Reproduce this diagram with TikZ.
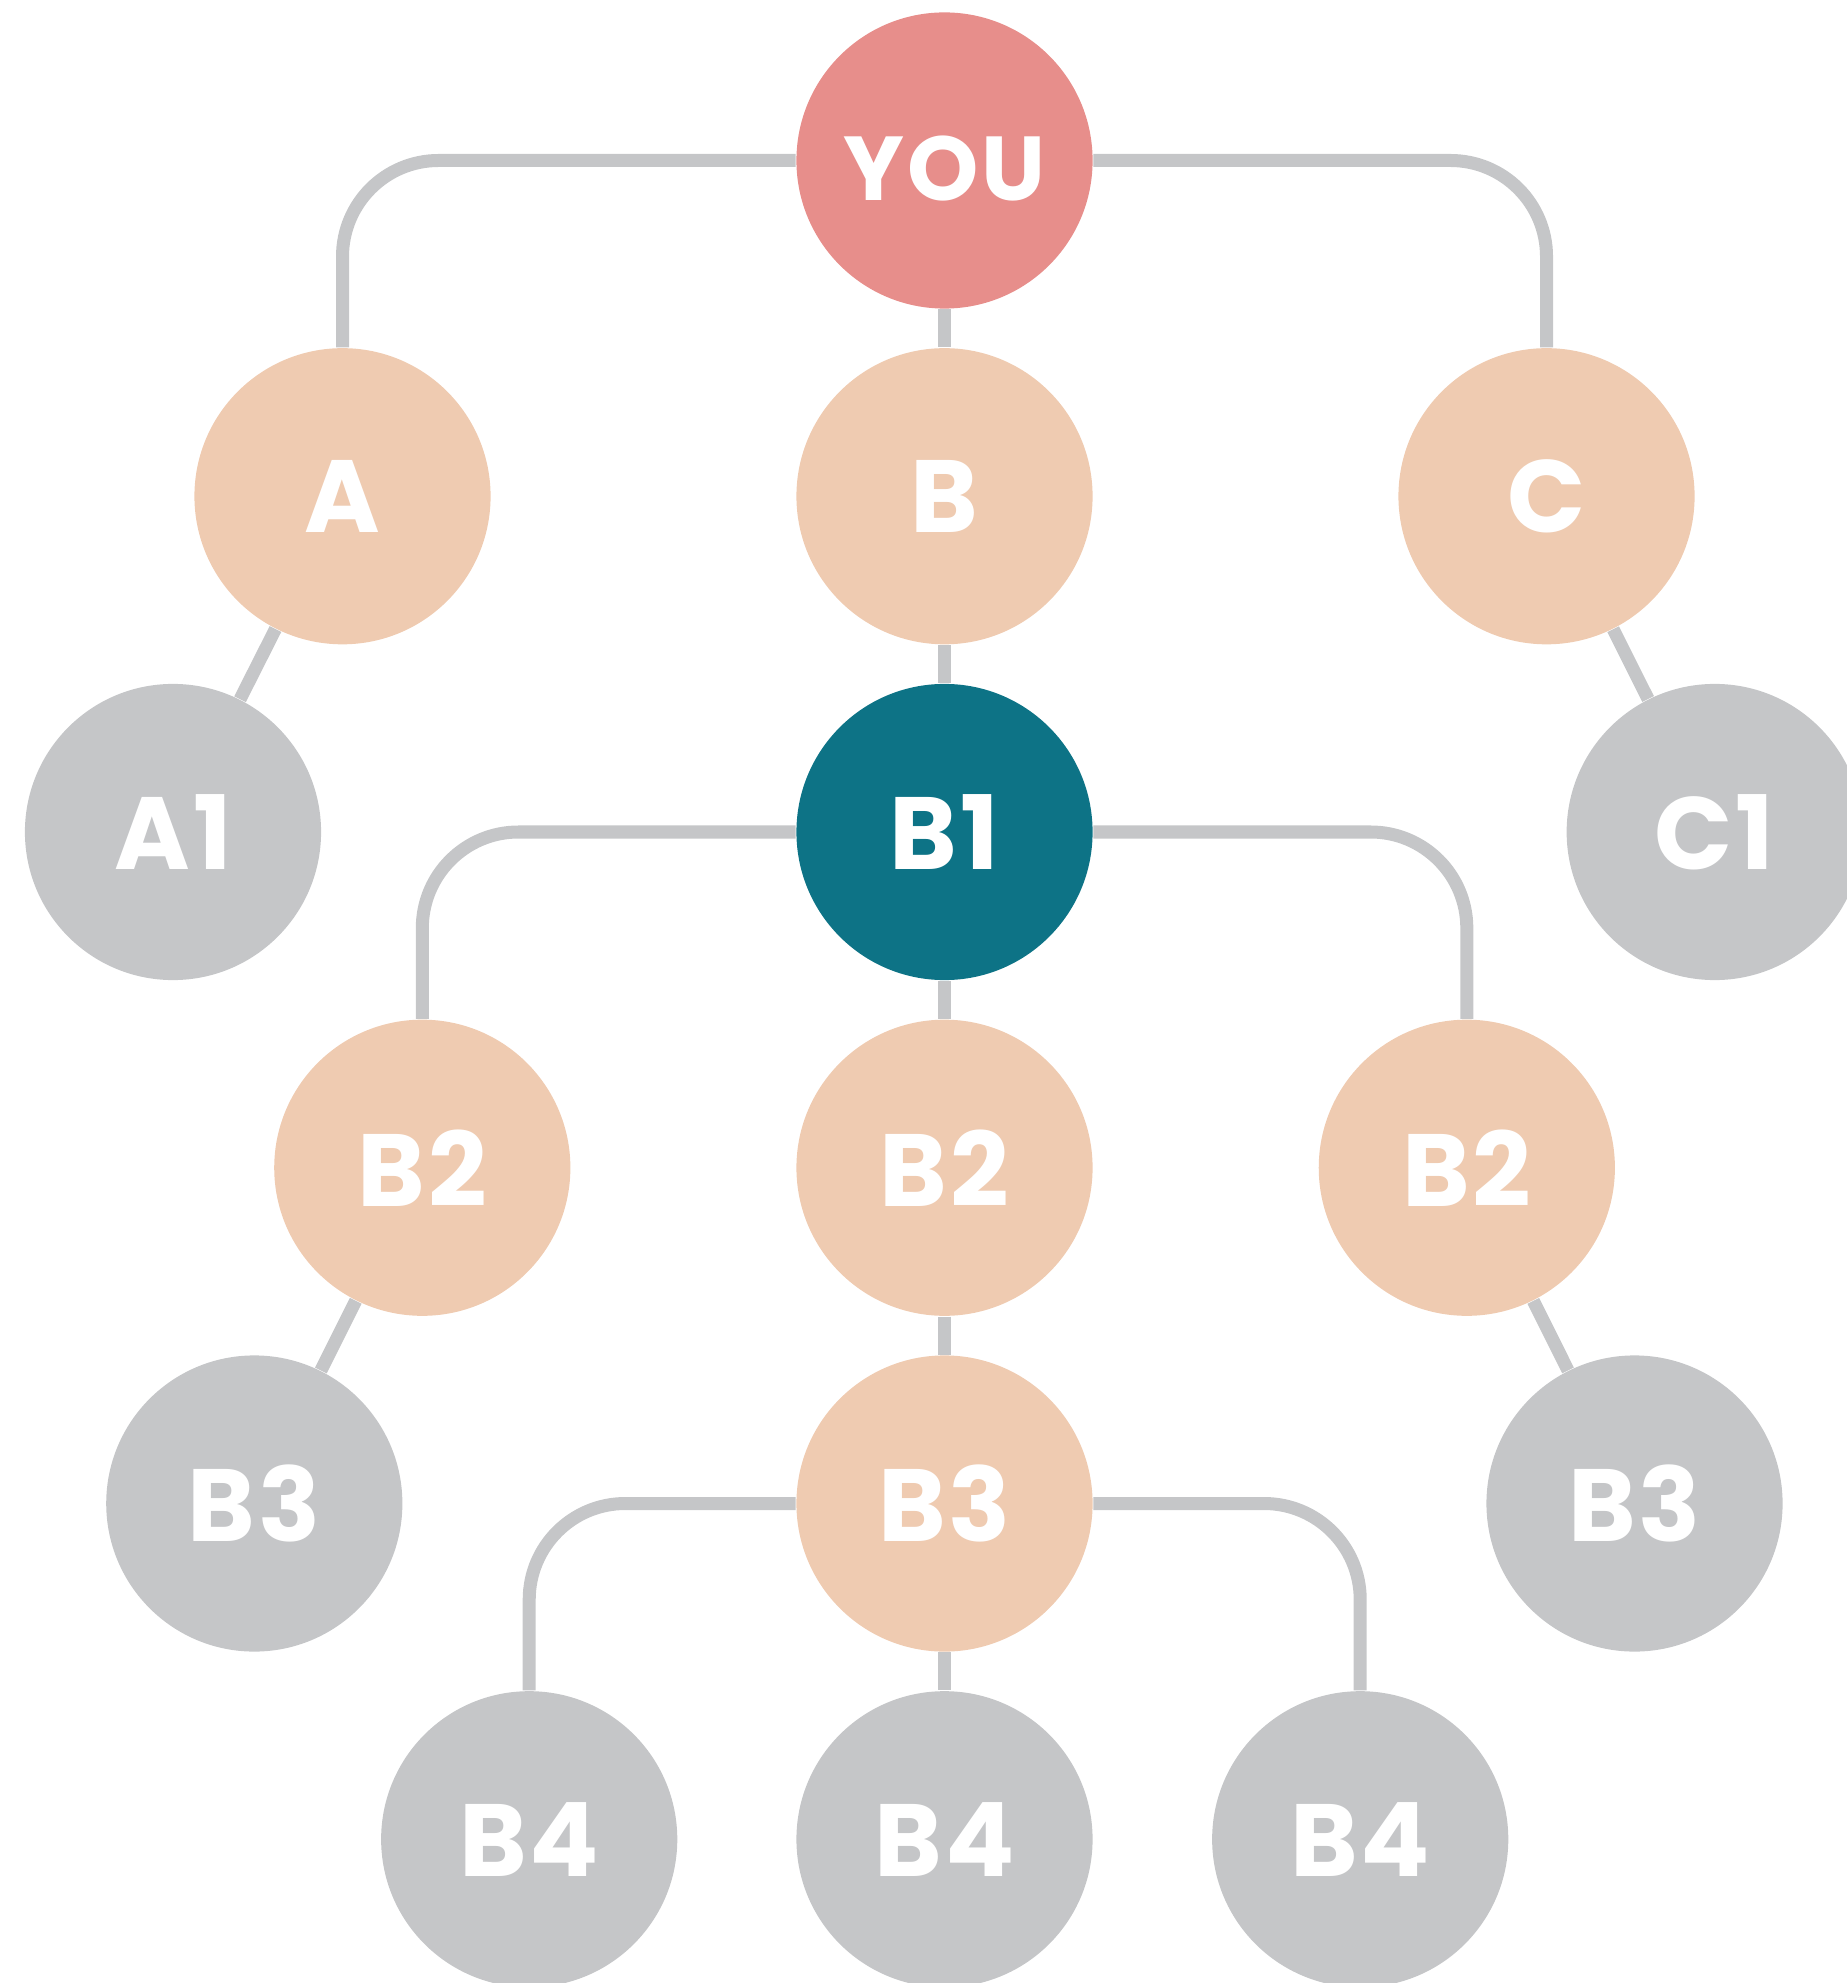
\documentclass[tikz,border=0pt]{standalone}
\usepackage{fontspec}
\setmainfont{Poppins}
\definecolor{youred}{HTML}{E78E8B}
\definecolor{peach}{HTML}{EFCBB1}
\definecolor{lgray}{HTML}{C5C6C8}
\definecolor{teal}{HTML}{0D7386}
\begin{document}
\begin{tikzpicture}[x=0.01cm,y=-0.01cm,
  person/.style={circle,minimum size=2.96cm,inner sep=0pt,text=white,
    font=\fontsize{29.2}{30}\selectfont\bfseries\addfontfeature{LetterSpace=3}},
  youc/.style={person,fill=youred},
  youtext/.style={text=white,inner sep=0pt,font=\fontsize{25.8}{26}\selectfont\bfseries\addfontfeature{LetterSpace=3}},
  peachc/.style={person,fill=peach},
  grayc/.style={person,fill=lgray},
  tealc/.style={person,fill=teal},
  edge/.style={draw=lgray,line width=0.13cm,rounded corners=0.96cm}]
\useasboundingbox (0,0) rectangle (1846,1983);
\node[youc] (you) at (944.5,160.5) {};
\node[youtext] (youlabel) at ([yshift=-0.08cm]you.center) {YOU};
\node[peachc] (a) at (342.5,496.25) {A};
\node[peachc] (b) at (944.5,496.25) {B};
\node[peachc] (c) at (1546.5,496.25) {C};
\node[grayc] (a1) at (173,832) {A1};
\node[tealc] (b1) at (944.5,832) {B1};
\node[grayc] (c1) at (1714.7,832) {C1};
\node[peachc] (b2l) at (422.3,1167.75) {B2};
\node[peachc] (b2m) at (944.5,1167.75) {B2};
\node[peachc] (b2r) at (1466.8,1167.75) {B2};
\node[grayc] (b3l) at (254.3,1503.5) {B3};
\node[peachc] (b3m) at (944.5,1503.5) {B3};
\node[grayc] (b3r) at (1634.5,1503.5) {B3};
\node[grayc] (b4l) at (529.2,1839.25) {B4};
\node[grayc] (b4m) at (944.5,1839.25) {B4};
\node[grayc] (b4r) at (1360.2,1839.25) {B4};
\draw[edge] (you) -| (a);
\draw[edge] (you) -- (b);
\draw[edge] (you) -| (c);
\draw[edge] (a) -- (a1);
\draw[edge] (b) -- (b1);
\draw[edge] (c) -- (c1);
\draw[edge] (b1) -| (b2l);
\draw[edge] (b1) -- (b2m);
\draw[edge] (b1) -| (b2r);
\draw[edge] (b2l) -- (b3l);
\draw[edge] (b2m) -- (b3m);
\draw[edge] (b2r) -- (b3r);
\draw[edge] (b3m) -| (b4l);
\draw[edge] (b3m) -- (b4m);
\draw[edge] (b3m) -| (b4r);
\end{tikzpicture}
\end{document}
